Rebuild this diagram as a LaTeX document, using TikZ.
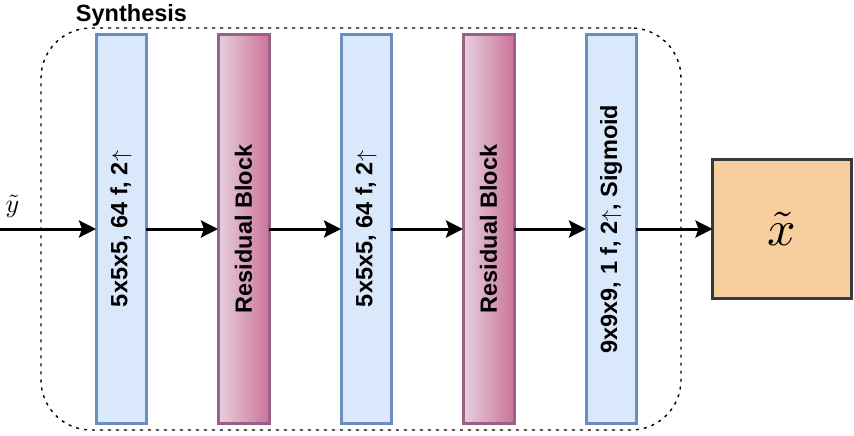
\documentclass[tikz,border=0pt]{standalone}
\usepackage{fontspec}
\newfontfamily\labfont{Liberation Sans}
\usetikzlibrary{arrows.meta}
\definecolor{bluefill}{HTML}{DAE8FC}
\definecolor{bluestroke}{HTML}{6C8EBF}
\definecolor{resA}{HTML}{E6D0DE}
\definecolor{resB}{HTML}{CC7499}
\definecolor{resstroke}{HTML}{996185}
\definecolor{outfill}{HTML}{F7CE9E}
\definecolor{outstroke}{HTML}{36393D}
\tikzset{
  convbox/.style={draw=bluestroke, fill=bluefill, line width=3pt, minimum width=50pt, minimum height=388pt, inner sep=0pt, outer sep=0pt},
  resbox/.style={draw=resstroke, left color=resA, right color=resB, line width=3pt, minimum width=51pt, minimum height=388pt, inner sep=0pt, outer sep=0pt},
  outbox/.style={draw=outstroke, fill=outfill, line width=3.2pt, minimum width=139pt, minimum height=139pt, inner sep=0pt, outer sep=0pt},
  grp/.style={draw=black, line width=1.4pt, dash pattern=on 3pt off 5pt, rounded corners=50pt, minimum width=640pt, minimum height=402pt, inner sep=0pt},
  flow/.style={line width=3pt, -{Stealth[length=17pt,width=17pt,inset=3pt]}},
  boxtext/.style={font=\labfont\bfseries\fontsize{23.5}{27}\selectfont}
}
\newcommand{\myup}{{\normalfont\fontsize{10}{12}\selectfont\scalebox{2.2}{$\uparrow$}}}
\begin{document}
\begin{tikzpicture}[x=1pt,y=-1pt]
\useasboundingbox (0,0) rectangle (854,436);
\node[grp] (syn) at (361,229) {};
\node[boxtext, anchor=center] (title) at (131.5,15) {Synthesis};
\node[convbox, boxtext] (c1) at (121,229) {\rotatebox{90}{5x5x5, 64 f, 2\myup}};
\node[resbox, boxtext] (r1) at (243.5,229) {\rotatebox{90}{Residual Block}};
\node[convbox, boxtext] (c2) at (366,229) {\rotatebox{90}{5x5x5, 64 f, 2\myup}};
\node[resbox, boxtext] (r2) at (488.5,229) {\rotatebox{90}{Residual Block}};
\node[convbox, boxtext] (c3) at (611,229) {\rotatebox{90}{9x9x9, 1 f, 2\myup, Sigmoid}};
\node[outbox] (out) at (782,229) {\scalebox{5}{$\tilde{x}$}};
\coordinate (in) at (0,229);
\node[inner sep=0pt] (ylab) at (12.5,206) {\scalebox{2.6}{$\tilde{y}$}};
\draw[flow] (in) -- (c1);
\draw[flow] (c1) -- (r1);
\draw[flow] (r1) -- (c2);
\draw[flow] (c2) -- (r2);
\draw[flow] (r2) -- (c3);
\draw[flow] (c3) -- (out);
\end{tikzpicture}
\end{document}
